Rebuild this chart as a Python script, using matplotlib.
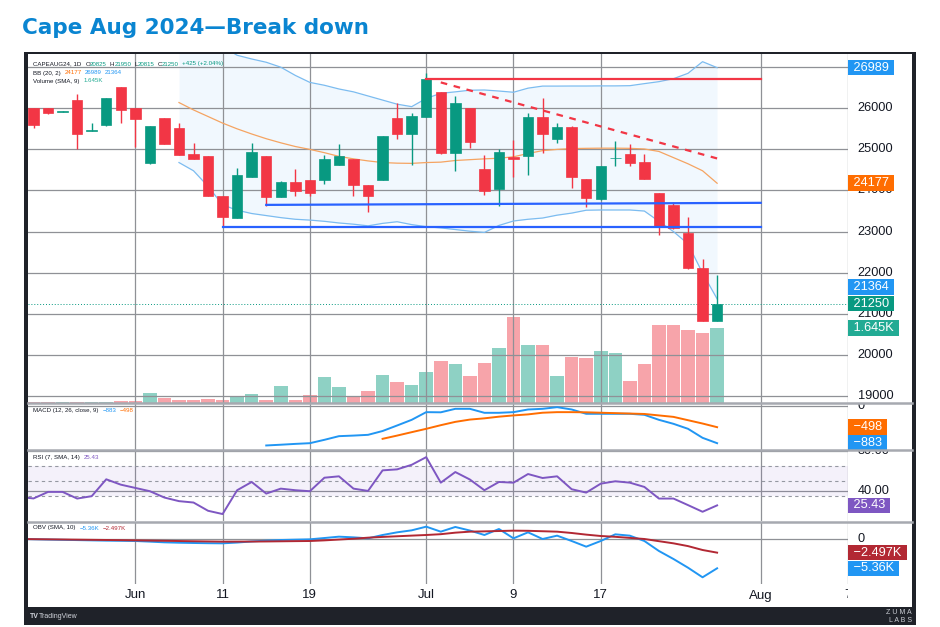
import numpy as np
import matplotlib
matplotlib.use("Agg")
import matplotlib.pyplot as plt
from matplotlib.patches import Rectangle
from matplotlib.lines import Line2D
from matplotlib.transforms import offset_copy

plt.rcParams['font.family'] = ['Liberation Sans', 'DejaVu Sans']

# ---- data (bar 0 = first visible daily candle) ----
opens = [26000, 26000, 25910, 26200, 25445, 25585, 26525, 26000, 24660, 25755,
         25515, 24880, 24830, 23860, 23325, 24330, 24845, 23840, 24200, 24255,
         24255, 24630, 24765, 24135, 24255, 25755, 25375, 25795, 26390, 24920,
         26000, 24515, 24045, 24805, 24845, 25795, 25255, 25555, 24280, 23785,
         24780, 24880, 24685, 23930, 23645, 22975, 22105, 20825]
highs = [26000, 26000, 25925, 26340, 25650, 26260, 26530, 26005, 25570, 25760,
         25650, 25150, 24835, 23865, 24540, 25165, 24850, 24240, 24515, 24260,
         24865, 25130, 24770, 24140, 25330, 26135, 25895, 26865, 26395, 26300,
         26005, 24865, 25000, 25230, 25895, 26240, 25635, 25560, 24285, 24600,
         25210, 25130, 24880, 23935, 23730, 23360, 22325, 21950]
lows = [25530, 25870, 25910, 25000, 25440, 25580, 25650, 25060, 24650, 25130,
        24870, 24770, 23855, 23120, 23320, 24325, 23630, 23835, 23875, 23870,
        24160, 24625, 23875, 23485, 24250, 25255, 24610, 25790, 24890, 24475,
        25025, 23890, 23630, 24335, 24370, 24905, 25150, 24055, 23605, 23780,
        24595, 24595, 24270, 22915, 23075, 22100, 20815, 20815]
closes = [25585, 25877, 25925, 25375, 25460, 26250, 25960, 25730, 25560, 25130,
          24870, 24775, 23860, 23365, 24375, 24935, 23840, 24200, 23990, 23930,
          24765, 24840, 24135, 23875, 25325, 25375, 25820, 26705, 24920, 26120,
          25190, 23990, 24930, 24765, 25795, 25375, 25555, 24330, 23810, 24595,
          24795, 24675, 24270, 23120, 23080, 22105, 20825, 21250]
volumes = [5, 5, 5, 5, 5, 5, 30, 30, 205, 90,
           65, 50, 75, 50, 140, 190, 65, 370, 50, 155,
           560, 340, 120, 245, 605, 460, 390, 665, 925, 850,
           590, 880, 1195, 1900, 1270, 1270, 575, 995, 990, 1135,
           1100, 470, 840, 1705, 1705, 1600, 1535, 1645]

# Bollinger bands (20, 2) shown from bar 10
bb_start = 10
bb_upper = [27900, 27800, 27650, 27500, 27290, 27200, 27120, 27000, 26800, 26630,
            26560, 26470, 26400, 26300, 26200, 26100, 26040, 26240, 26364, 26400,
            26440, 26445, 26420, 26390, 26490, 26540, 26540, 26542, 26542, 26545,
            26545, 26550, 26600, 26648, 26720, 26851, 27134, 26989]
bb_basis = [26140, 25960, 25800, 25640, 25500, 25375, 25260, 25160, 25070, 25000,
            24920, 24830, 24770, 24720, 24680, 24665, 24660, 24680, 24690, 24730,
            24750, 24770, 24785, 24820, 24900, 24970, 25000, 25020, 25026, 25030,
            25030, 25026, 25010, 24950, 24800, 24650, 24480, 24177]
bb_lower = [24680, 24480, 24100, 23650, 23520, 23440, 23390, 23340, 23300, 23280,
            23250, 23210, 23180, 23140, 23200, 23240, 23170, 23120, 23090, 23050,
            23010, 22980, 23150, 23258, 23300, 23330, 23400, 23450, 23520, 23526,
            23526, 23526, 23500, 23250, 23000, 22700, 21990, 21364]

# MACD (12, 26, close, 9)
macd_start = 16
macd_line = [-938, -920, -900, -883, -802, -714, -700, -682, -590, -457,
             -321, -136, -140, -56, -56, -152, -152, -136, -72, -56,
             -16, -72, -176, -176, -176, -176, -200, -321, -417, -537,
             -754, -883]
signal_start = 24
macd_signal = [-778, -700, -618, -537, -450, -370, -315, -285, -245, -215,
               -190, -150, -136, -136, -140, -150, -160, -170, -180, -215,
               -250, -330, -410, -498]

# RSI (7) and OBV series start one bar before the first candle
ind_start = -1
rsi = [34, 32.4, 39, 39, 32.3, 34.7, 51.7, 46.3, 43, 39.7,
       33.3, 29.7, 28.3, 20, 16.7, 40.7, 49, 37.3, 42.3, 40.7,
       39.7, 53.3, 54.7, 42.3, 40, 60.7, 61.7, 66.3, 74, 48.3,
       59, 51.5, 40.7, 49, 48.3, 57, 53, 54.7, 41.7, 38.3,
       47.3, 49.7, 48.3, 44, 32.3, 32.3, 25.7, 19, 25.43]
obv = [0, -50, -100, -150, -200, -250, -300, -330, -366, -480,
       -610, -680, -730, -770, -793, -650, -450, -300, -183, -120,
       -60, 180, 427, 300, 122, 732, 1220, 1586, 2256, 1342,
       2200, 1550, 732, 1830, 122, 1220, 0, 610, -366, -1403,
       -366, 854, 610, -366, -2195, -3659, -5250, -7007, -5360]
obv_sma = [0, -30, -60, -90, -120, -150, -180, -210, -250, -290,
           -330, -370, -410, -450, -488, -480, -470, -450, -420, -390,
           -366, -250, -100, 50, 244, 380, 500, 620, 732, 880,
           1159, 1342, 1400, 1460, 1525, 1500, 1420, 1342, 1100, 800,
           549, 400, 200, 0, -400, -793, -1300, -2012, -2497]

# time axis (bar index of each label)
date_ticks = [7, 13, 19, 27, 33, 39, 50, 56]
date_labels = ['Jun', '11', '19', 'Jul', '9', '17', 'Aug', '7']

# price scale labels that show on the right
price_ticks = [19000, 20000, 21000, 22000, 23000, 24000, 25000, 26000]

# hand-drawn levels: (bar from, bar to, price from, price to)
resist_level = (27, 50, 26710, 26710)
resist_trend = (28, 47, 26630, 24780)
support_1 = (16, 50, 23650, 23700)
support_2 = (13, 50, 23120, 23120)

# ---- style ----
UP, DOWN = '#089981', '#f23645'
UP_VOL, DOWN_VOL = '#8ed1c4', '#f7a4aa'
GRID = '#8f9196'
TXT = '#131722'
W, H = 940, 627
XLIM = (-0.38, 55.67)


def rect(x0, y0, x1, y1):
    return [x0 / W, 1 - y1 / H, (x1 - x0) / W, (y1 - y0) / H]


def fmt(v):
    return f"{v:.0f}".replace('-', '\u2212')


def fmt_k(v):
    return f"{v / 1000:.4g}K".replace('-', '\u2212')


fig = plt.figure(figsize=(9.4, 6.27), dpi=100)
fig.add_artist(Rectangle((24 / W, 1 - 625 / H), 892 / W, 573 / H, transform=fig.transFigure,
                         fc='#1f2229', ec='none', zorder=-2))
fig.add_artist(Rectangle((28 / W, 1 - 607 / H), 884 / W, 553 / H, transform=fig.transFigure,
                         fc='white', ec='none', zorder=-1))


def style_pane(a):
    for s in a.spines.values():
        s.set_visible(False)
    a.tick_params(left=False, right=False, bottom=False, top=False,
                  labelleft=False, labelright=False, labelbottom=False)
    a.set_xlim(*XLIM)
    a.set_xticks(date_ticks)
    a.grid(axis='x', color=GRID, lw=0.9)
    a.grid(axis='y', color=GRID, lw=0.9)
    a.set_axisbelow(True)
    a.patch.set_visible(False)


def scale_axes(y0, y1, share):
    s = fig.add_axes(rect(848, y0, 912, y1), sharey=share)
    s.set_axis_off()
    return s


def scale_text(s, v, lab):
    s.text(0.15, v, lab, transform=s.get_yaxis_transform(), ha='left', va='center',
           fontsize=9.2, color=TXT, clip_on=True)


def box_label(s, v, lab, color, dy=0):
    tr = offset_copy(s.get_yaxis_transform(), fig=fig, y=dy, units='dots')
    s.text(0.03, v, f' {lab} ', transform=tr, ha='left', va='center', fontsize=9.2,
           color='white', clip_on=True, zorder=5,
           bbox=dict(boxstyle='square,pad=0.14', fc=color, ec='none'))


def pane_legend(a, dy, pieces, fs=4.4):
    r = fig.canvas.get_renderer()
    dx = 5
    for s, c, gap in pieces:
        t = a.text(0, 1, s, transform=offset_copy(a.transAxes, fig=fig, x=dx, y=-dy, units='dots'),
                   fontsize=fs, color=c, ha='left', va='center', zorder=6)
        dx += t.get_window_extent(r).width + gap


x = np.arange(len(opens))
o, h, l, c = map(np.array, (opens, highs, lows, closes))
up = c >= o
cols = np.where(up, UP, DOWN)

# ---- main pane: candles, volume, bands ----
ax = fig.add_axes(rect(28, 54, 848, 402.5))
ax_vol = ax.twinx()
ax.set_zorder(ax_vol.get_zorder() + 1)
style_pane(ax)
ax.set_ylim(18842, 27321)
ax.set_yticks(range(19000, 28000, 1000))
for sp in ax_vol.spines.values():
    sp.set_visible(False)
ax_vol.tick_params(right=False, labelright=False)
ax_vol.set_ylim(0, 7700)
ax_vol.bar(x, volumes, width=0.93, color=np.where(up, UP_VOL, DOWN_VOL), lw=0)

xb = np.arange(bb_start, bb_start + len(bb_upper))
ax.fill_between(xb, bb_lower, bb_upper, color='#2196f3', alpha=0.06, lw=0, zorder=0.4)
ax.plot(xb, bb_upper, color='#7cbcf0', lw=0.9, zorder=1)
ax.plot(xb, bb_lower, color='#7cbcf0', lw=0.9, zorder=1)
ax.plot(xb, bb_basis, color='#f5a462', lw=0.9, zorder=1)

ax.vlines(x, l, h, colors=cols, lw=1, zorder=2)
ax.bar(x, np.maximum(np.abs(c - o), 20), bottom=np.minimum(o, c), width=0.72,
       color=cols, edgecolor=cols, lw=0.5, zorder=3)

ax.axhline(c[-1], color=UP, lw=0.7, ls=(0, (1, 2)), zorder=1)
for (x0, x1, y0, y1), col, ls in [(resist_level, DOWN, '-'), (resist_trend, DOWN, (0, (3, 3))),
                                  (support_1, '#2962ff', '-'), (support_2, '#2962ff', '-')]:
    ax.plot([x0, x1], [y0, y1], color=col, lw=1.6, ls=ls, zorder=4)

pane_legend(ax, 10, [('CAPEAUG24, 1D', TXT, 4), ('O', TXT, 0), (fmt(o[-1]), UP, 3),
                     ('H', TXT, 0), (fmt(h[-1]), UP, 3), ('L', TXT, 0), (fmt(l[-1]), UP, 3),
                     ('C', TXT, 0), (fmt(c[-1]), UP, 3),
                     (f"+{c[-1] - c[-2]:.0f} (+{(c[-1] - c[-2]) / c[-2] * 100:.2f}%)", UP, 0)])
pane_legend(ax, 19, [('BB (20, 2)', TXT, 4), (fmt(bb_basis[-1]), '#ff6d00', 3),
                     (fmt(bb_upper[-1]), '#2196f3', 3), (fmt(bb_lower[-1]), '#2196f3', 0)])
pane_legend(ax, 27, [('Volume (SMA, 9)', TXT, 4), (fmt_k(volumes[-1]), '#22ab94', 0)])

s_main = scale_axes(54, 402.5, ax)
for v in price_ticks:
    scale_text(s_main, v, str(v))
box_label(s_main, bb_upper[-1], fmt(bb_upper[-1]), '#2196f3')
box_label(s_main, bb_basis[-1], fmt(bb_basis[-1]), '#ff6d00')
box_label(s_main, bb_lower[-1], fmt(bb_lower[-1]), '#2196f3', dy=12)  # pushed up, collides with close
box_label(s_main, c[-1], fmt(c[-1]), UP)
s_vol = scale_axes(54, 402.5, ax_vol)
box_label(s_vol, volumes[-1], fmt_k(volumes[-1]), '#22ab94')

# ---- MACD ----
ax_m = fig.add_axes(rect(28, 403.5, 848, 449.5), sharex=ax)
style_pane(ax_m)
ax_m.set_ylim(-1035, 72)
ax_m.set_yticks([0])
ax_m.plot(np.arange(macd_start, macd_start + len(macd_line)), macd_line, color='#2196f3', lw=1.4)
ax_m.plot(np.arange(signal_start, signal_start + len(macd_signal)), macd_signal, color='#ff6d00', lw=1.4)
pane_legend(ax_m, 7, [('MACD (12, 26, close, 9)', TXT, 4), (fmt(macd_line[-1]), '#2196f3', 3),
                      (fmt(macd_signal[-1]), '#ff6d00', 0)])
s_m = scale_axes(403.5, 449.5, ax_m)
scale_text(s_m, 0, '0')
box_label(s_m, macd_signal[-1], fmt(macd_signal[-1]), '#ff6d00')
box_label(s_m, macd_line[-1], fmt(macd_line[-1]), '#2196f3')

# ---- RSI ----
xi = np.arange(ind_start, ind_start + len(rsi))
ax_r = fig.add_axes(rect(28, 450.5, 848, 521), sharex=ax)
style_pane(ax_r)
ax_r.set_ylim(9.7, 80.7)
ax_r.set_yticks([40, 80])
ax_r.axhspan(35, 65, color='#7e57c2', alpha=0.08, lw=0)
for lv in (65, 50, 35):
    ax_r.axhline(lv, color='#9598a1', lw=0.8, ls=(0, (3, 3)))
ax_r.plot(xi, rsi, color='#7e57c2', lw=1.4)
pane_legend(ax_r, 7, [('RSI (7, SMA, 14)', TXT, 4), (f"{rsi[-1]:.2f}", '#7e57c2', 0)])
s_r = scale_axes(450.5, 521, ax_r)
scale_text(s_r, 80, '80.00')
scale_text(s_r, 40, '40.00')
box_label(s_r, rsi[-1], f"{rsi[-1]:.2f}", '#7e57c2')

# ---- OBV ----
ax_o = fig.add_axes(rect(28, 522, 848, 584), sharex=ax)
style_pane(ax_o)
ax_o.set_ylim(-8233, 3110)
ax_o.set_yticks([0])
ax_o.plot(xi, obv, color='#2196f3', lw=1.4)
ax_o.plot(xi, obv_sma, color='#b22833', lw=1.4)
pane_legend(ax_o, 6, [('OBV (SMA, 10)', TXT, 4), (fmt_k(obv[-1]), '#2196f3', 3),
                      (fmt_k(obv_sma[-1]), '#b22833', 0)])
s_o = scale_axes(522, 584, ax_o)
scale_text(s_o, 0, '0')
box_label(s_o, obv_sma[-1], fmt_k(obv_sma[-1]), '#b22833')
box_label(s_o, obv[-1], fmt_k(obv[-1]), '#2196f3')

# ---- time axis ----
ax_d = fig.add_axes(rect(28, 584, 848, 607), sharex=ax)
ax_d.set_axis_off()
for t, lab in zip(date_ticks, date_labels):
    ax_d.text(t, 0.5, lab, transform=ax_d.get_xaxis_transform(), ha='center', va='center',
              fontsize=9.5, color=TXT, clip_on=True)

# pane separators
for yy in (403, 450, 521.5):
    fig.add_artist(Line2D([28 / W, 912 / W], [1 - yy / H] * 2, color='#a6a9b0', lw=1.8))

# ---- title and footer ----
fig.text(22 / W, 1 - 28 / H, 'Cape Aug 2024\u2014Break down', fontsize=15.5, fontweight='bold',
         family='DejaVu Sans', color='#0a85d1', ha='left', va='center')
fig.text(30 / W, 1 - 616 / H, 'TV', fontsize=5, fontweight='bold', color='#d1d4dc', va='center')
fig.text(39 / W, 1 - 616 / H, 'TradingView', fontsize=5, color='#d1d4dc', va='center')
fig.text(912 / W, 1 - 612 / H, 'Z U M A', fontsize=5, color='#c9ccd3', ha='right', va='center')
fig.text(912 / W, 1 - 620 / H, 'L A B S', fontsize=5, color='#c9ccd3', ha='right', va='center')

fig.savefig('out.png', dpi=100)
